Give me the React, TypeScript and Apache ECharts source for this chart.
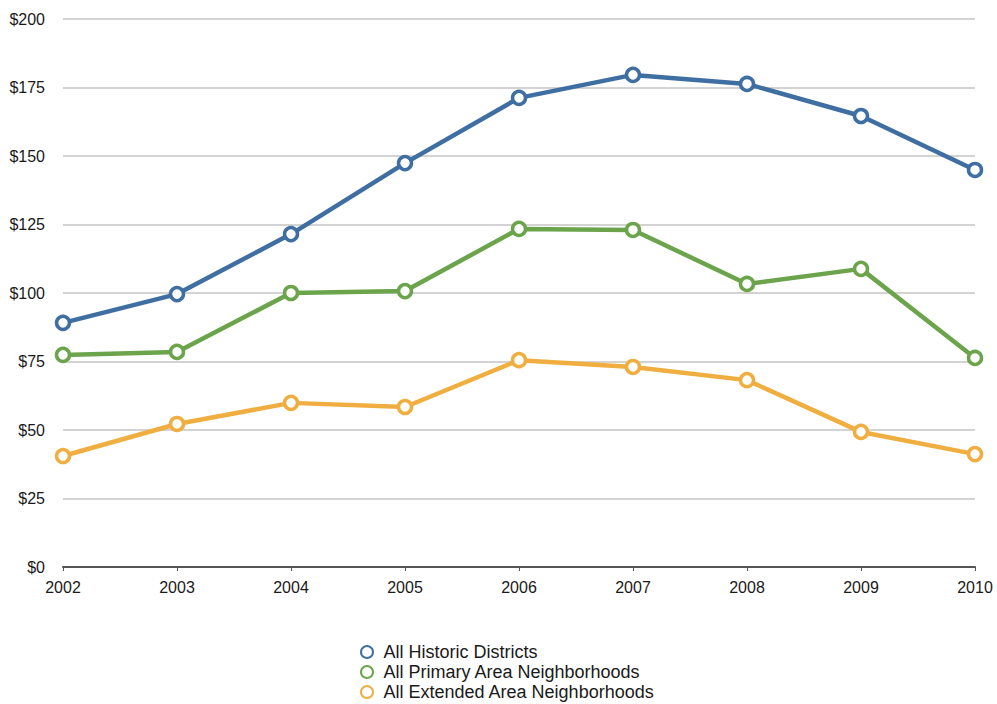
import React, { useEffect, useRef } from "react";
import * as echarts from "echarts";

const years = ["2002", "2003", "2004", "2005", "2006", "2007", "2008", "2009", "2010"];
const historicDistricts = [89.1, 99.6, 121.5, 147.4, 171.2, 179.6, 176.3, 164.6, 144.9];
const primaryArea = [77.4, 78.5, 100.0, 100.7, 123.4, 123.0, 103.3, 108.8, 76.3];
const extendedArea = [40.5, 52.2, 59.9, 58.4, 75.5, 73.0, 68.2, 49.3, 41.2];

const seriesNames = [
  "All Historic Districts",
  "All Primary Area Neighborhoods",
  "All Extended Area Neighborhoods",
];
const seriesColors = ["#3f6fa2", "#6ca44c", "#f0ae40"];

const FONT = "'Liberation Sans', Arial, Helvetica, sans-serif";

export default function App() {
  const ref = useRef<HTMLDivElement>(null);

  useEffect(() => {
    document.body.style.margin = "0";
    if (!ref.current) return;
    const chart = echarts.init(ref.current, null, { renderer: "svg" });
    const dataSets = [historicDistricts, primaryArea, extendedArea];

    chart.setOption({
      animation: false,
      backgroundColor: "#ffffff",
      grid: { left: 63, right: 22, top: 19, bottom: 137 },
      legend: {
        orient: "vertical",
        left: 360,
        top: 642,
        height: 62,
        padding: 0,
        itemGap: 0,
        itemWidth: 13,
        itemHeight: 12,
        icon: "circle",
        textStyle: {
          fontFamily: FONT,
          fontSize: 18,
          lineHeight: 20,
          color: "#1a1a1a",
          padding: [0, 0, 0, 5],
        },
        data: seriesNames,
      },
      xAxis: {
        type: "category",
        data: years,
        boundaryGap: false,
        axisLine: { lineStyle: { color: "#555", width: 2 } },
        axisTick: { show: true, alignWithLabel: true, length: 4, lineStyle: { color: "#555" } },
        axisLabel: { fontFamily: FONT, fontSize: 16, color: "#1a1a1a", margin: 12 },
        splitLine: { show: false },
      },
      yAxis: {
        type: "value",
        min: 0,
        max: 200,
        interval: 25,
        axisLine: { show: false },
        axisTick: { show: false },
        axisLabel: {
          fontFamily: FONT,
          fontSize: 16,
          color: "#1a1a1a",
          margin: 18,
          formatter: (v: number) => "$" + v,
        },
        splitLine: { lineStyle: { color: "#c4c4c4", width: 1.5 } },
      },
      series: seriesNames.map((name, i) => ({
        name,
        type: "line",
        data: dataSets[i],
        symbol: "circle",
        symbolSize: 13,
        lineStyle: { color: seriesColors[i], width: 4.5 },
        itemStyle: { color: "#ffffff", borderColor: seriesColors[i], borderWidth: 3.5 },
        z: 3 - i,
      })),
    });

    return () => chart.dispose();
  }, []);

  return <div ref={ref} style={{ width: 997, height: 704 }} />;
}
